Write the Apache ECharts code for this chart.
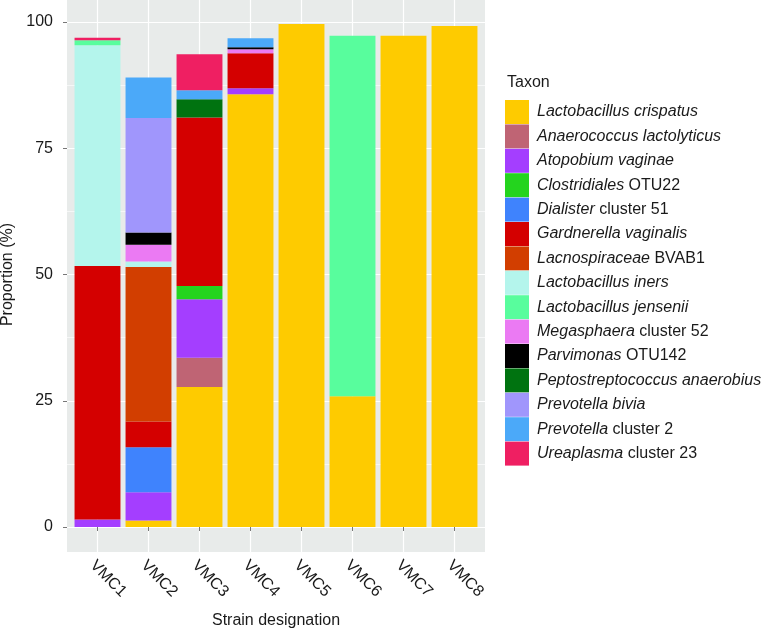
<!DOCTYPE html>
<html>
<head>
<meta charset="utf-8">
<script src="https://cdn.jsdelivr.net/npm/echarts@6/dist/echarts.min.js"></script>
<style>html,body{margin:0;padding:0;background:#fff;}#c{width:761px;height:631px;}</style>
</head>
<body>
<div id="c"></div>
<script>
const categories = ['VMC1','VMC2','VMC3','VMC4','VMC5','VMC6','VMC7','VMC8'];
const yTicks = [0, 25, 50, 75, 100];

const crispatus      = [0,    1.3, 27.7, 85.7, 99.6, 25.9, 97.3, 99.2];
const anaerococcus   = [0,    0,    5.8,  0,    0,    0,    0,    0];
const atopobium      = [1.5,  5.6, 11.6,  1.2,  0,    0,    0,    0];
const clostridiales  = [0,    0,    2.6,  0,    0,    0,    0,    0];
const dialister      = [0,    8.9,  0,    0,    0,    0,    0,    0];
const gardnerella    = [50.2, 5.1, 33.4,  6.9,  0,    0,    0,    0];
const lacnospiraceae = [0,   30.6,  0,    0,    0,    0,    0,    0];
const iners          = [43.7, 1.1,  0,    0,    0,    0,    0,    0];
const jensenii       = [1.0,  0,    0,    0,    0,   71.4,  0,    0];
const megasphaera    = [0,    3.3,  0,    0.8,  0,    0,    0,    0];
const parvimonas     = [0,    2.4,  0,    0.4,  0,    0,    0,    0];
const peptostrep     = [0,    0,    3.6,  0,    0,    0,    0,    0];
const bivia          = [0,   22.7,  0,    0,    0,    0,    0,    0];
const prevotella2    = [0,    8.0,  1.8,  1.8,  0,    0,    0,    0];
const ureaplasma     = [0.5,  0,    7.1,  0,    0,    0,    0,    0];

const taxa = [
  {name:'Lactobacillus crispatus', label:'{i|Lactobacillus crispatus}', data:crispatus, color:'#FECB00'},
  {name:'Anaerococcus lactolyticus', label:'{i|Anaerococcus lactolyticus}', data:anaerococcus, color:'#BF6474'},
  {name:'Atopobium vaginae', label:'{i|Atopobium vaginae}', data:atopobium, color:'#A43EFF'},
  {name:'Clostridiales OTU22', label:'{i|Clostridiales} OTU22', data:clostridiales, color:'#24D41E'},
  {name:'Dialister cluster 51', label:'{i|Dialister} cluster 51', data:dialister, color:'#3F83FD'},
  {name:'Gardnerella vaginalis', label:'{i|Gardnerella vaginalis}', data:gardnerella, color:'#D40000'},
  {name:'Lacnospiraceae BVAB1', label:'{i|Lacnospiraceae} BVAB1', data:lacnospiraceae, color:'#D23E00'},
  {name:'Lactobacillus iners', label:'{i|Lactobacillus iners}', data:iners, color:'#B4F5EC'},
  {name:'Lactobacillus jensenii', label:'{i|Lactobacillus jensenii}', data:jensenii, color:'#58FD9D'},
  {name:'Megasphaera cluster 52', label:'{i|Megasphaera} cluster 52', data:megasphaera, color:'#EB7AF3'},
  {name:'Parvimonas OTU142', label:'{i|Parvimonas} OTU142', data:parvimonas, color:'#000000'},
  {name:'Peptostreptococcus anaerobius', label:'{i|Peptostreptococcus anaerobius}', data:peptostrep, color:'#007310'},
  {name:'Prevotella bivia', label:'{i|Prevotella bivia}', data:bivia, color:'#A096FC'},
  {name:'Prevotella cluster 2', label:'{i|Prevotella} cluster 2', data:prevotella2, color:'#4BA9F9'},
  {name:'Ureaplasma cluster 23', label:'{i|Ureaplasma} cluster 23', data:ureaplasma, color:'#EF1F62'}
];
const labelMap = {};
taxa.forEach(t => labelMap[t.name] = t.label);

const FONT = 'Liberation Sans';
const TXT = '#1a1a1a';
const FS = 16;

const chart = echarts.init(document.getElementById('c'), null, {renderer:'canvas'});
chart.setOption({
  animation: false,
  backgroundColor: '#ffffff',
  textStyle: {fontFamily: FONT},
  graphic: [{
    type: 'rect', z: -10, silent: true,
    shape: {x: 67, y: 0, width: 418, height: 552},
    style: {fill: '#E8EBEA'}
  }],
  title: {
    text: 'Taxon', left: 507, top: 75, padding: 0,
    textStyle: {fontFamily: FONT, fontSize: FS, fontWeight: 'normal', color: TXT}
  },
  legend: {
    orient: 'vertical', left: 505, top: 100, padding: 0,
    itemWidth: 24, itemHeight: 24, itemGap: 0.4,
    icon: 'rect', selectedMode: false,
    data: taxa.map(t => t.name),
    formatter: n => labelMap[n],
    textStyle: {
      fontFamily: FONT, fontSize: FS, color: TXT, padding: [0,0,0,3],
      rich: {i: {fontStyle: 'italic', fontFamily: FONT, fontSize: FS, color: TXT}}
    }
  },
  grid: [
    {left: 72, right: 281, top: 0, bottom: 79, containLabel: false, outerBoundsMode: 'none'},
    {left: 67, right: 276, top: 22, bottom: 104, containLabel: false, outerBoundsMode: 'none'},
    {left: 67, right: 286, top: 0, bottom: 79, containLabel: false, outerBoundsMode: 'none'}
  ],
  xAxis: [
    {
      type: 'category', gridIndex: 0, data: categories,
      axisLine: {show: false},
      axisTick: {show: true, length: 4, alignWithLabel: true, lineStyle: {color: '#777'}},
      axisLabel: {show: false},
      splitLine: {show: true, alignWithLabel: true, lineStyle: {color: '#ffffff', width: 1.2}},
      name: 'Strain designation', nameLocation: 'middle', nameGap: 61,
      nameTextStyle: {fontFamily: FONT, fontSize: FS, color: TXT}
    },
    {type: 'category', gridIndex: 1, data: categories, show: false},
    {
      type: 'category', gridIndex: 2, data: categories,
      axisLine: {show: false}, axisTick: {show: false}, splitLine: {show: false},
      axisLabel: {show: true, rotate: -45, margin: 11, fontFamily: FONT, fontSize: FS, color: TXT, interval: 0}
    }
  ],
  yAxis: [
    {type: 'value', gridIndex: 0, min: -4.95, max: 104.36, show: false, splitLine: {show: false}},
    {
      type: 'value', gridIndex: 1, min: yTicks[0], max: yTicks[yTicks.length-1], interval: 25,
      axisLine: {show: false},
      axisTick: {show: true, length: 4, lineStyle: {color: '#777'}},
      axisLabel: {margin: 14, fontFamily: FONT, fontSize: FS, color: TXT},
      splitLine: {show: true, lineStyle: {color: '#ffffff', width: 1.2}},
      minorTick: {show: false, splitNumber: 2},
      minorSplitLine: {show: true, lineStyle: {color: '#ffffff', width: 0.6}},
      name: 'Proportion (%)', nameLocation: 'middle', nameGap: 47,
      nameTextStyle: {fontFamily: FONT, fontSize: FS, color: TXT}
    },
    {type: 'value', gridIndex: 2, show: false, splitLine: {show: false}}
  ],
  series: taxa.map(t => ({
    name: t.name, type: 'bar', stack: 'total',
    xAxisIndex: 0, yAxisIndex: 0,
    data: t.data, barCategoryGap: '10%',
    itemStyle: {color: t.color},
    emphasis: {disabled: true}
  }))
});
</script>
</body>
</html>
